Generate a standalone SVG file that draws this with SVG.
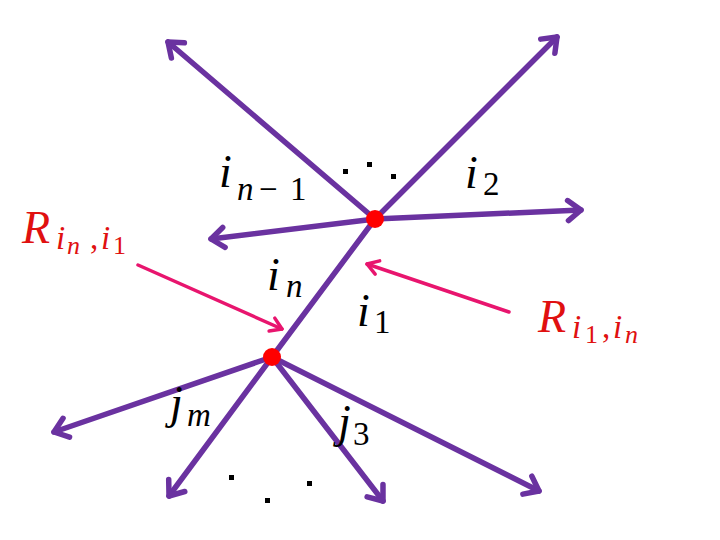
<svg xmlns="http://www.w3.org/2000/svg" width="720" height="540" viewBox="0 0 720 540">
<defs>
<marker id="ah" markerUnits="userSpaceOnUse" viewBox="-20 -14 24 28" refX="0" refY="0" markerWidth="24" markerHeight="28" orient="auto">
<path d="M-13,-10 L0,0 L-13,10" fill="none" stroke="#6a32a0" stroke-width="5.5" stroke-linecap="round" stroke-linejoin="round"/>
</marker>
<marker id="ahp" markerUnits="userSpaceOnUse" viewBox="-20 -14 24 28" refX="0" refY="0" markerWidth="24" markerHeight="28" orient="auto">
<path d="M-11,-7 L0,0 L-11,7" fill="none" stroke="#e8156e" stroke-width="3.5" stroke-linecap="round" stroke-linejoin="round"/>
</marker>
</defs>
<rect width="720" height="540" fill="#fff"/>
<g id="connectors" fill="none" stroke-linecap="round">
<g stroke="#6a32a0" stroke-width="5.5" marker-end="url(#ah)">
<line x1="375" y1="219" x2="168" y2="42"/>
<line x1="375" y1="219" x2="557" y2="37"/>
<line x1="375" y1="219" x2="581" y2="210"/>
<line x1="375" y1="219" x2="211" y2="239"/>
<line x1="272" y1="357" x2="54" y2="432"/>
<line x1="272" y1="357" x2="169" y2="496"/>
<line x1="272" y1="357" x2="383" y2="501"/>
<line x1="272" y1="357" x2="539" y2="491"/>
</g>
<line stroke="#6a32a0" stroke-width="5.5" x1="375" y1="219" x2="272" y2="357"/>
<g stroke="#e8156e" stroke-width="3.5" marker-end="url(#ahp)">
<line x1="138" y1="265" x2="282" y2="329"/>
<line x1="509" y1="312" x2="367" y2="264"/>
</g>
</g>
<g id="node-top"><circle fill="#ff0000" cx="375" cy="219" r="9"/></g>
<g id="node-bottom"><circle fill="#ff0000" cx="272" cy="357" r="9"/></g>
<g id="dots-top" fill="#000">
<rect x="343" y="169" width="5" height="5"/>
<rect x="367" y="162" width="5" height="5"/>
<rect x="391" y="174" width="5" height="5"/>
</g>
<g id="dots-bottom" fill="#000">
<rect x="229" y="475" width="5" height="5"/>
<rect x="265" y="498" width="5" height="5"/>
<rect x="307" y="481" width="5" height="5"/>
</g>
<text id="label-in-1" font-family="Liberation Serif" font-style="italic" font-size="46" fill="#000"><tspan x="219" y="187">i</tspan><tspan font-size="33" x="237" y="200">n</tspan><tspan font-style="normal" font-size="33" x="259" y="200">−</tspan><tspan font-style="normal" font-size="33" x="290" y="200">1</tspan></text>
<text id="label-i2" font-family="Liberation Serif" font-style="italic" font-size="46" fill="#000"><tspan x="465" y="188">i</tspan><tspan font-style="normal" font-size="33" x="483" y="195">2</tspan></text>
<text id="label-in" font-family="Liberation Serif" font-style="italic" font-size="46" fill="#000"><tspan x="267" y="290">i</tspan><tspan font-size="33" x="286" y="297">n</tspan></text>
<text id="label-i1" font-family="Liberation Serif" font-style="italic" font-size="46" fill="#000"><tspan x="357" y="326">i</tspan><tspan font-style="normal" font-size="33" x="374" y="333">1</tspan></text>
<text id="label-jm" font-family="Liberation Serif" font-style="italic" font-size="46" fill="#000"><tspan x="170" y="418">j</tspan><tspan font-size="33" x="187" y="426">m</tspan></text>
<text id="label-j3" font-family="Liberation Serif" font-style="italic" font-size="46" fill="#000"><tspan x="338" y="437">j</tspan><tspan font-style="normal" font-size="33" x="353" y="445">3</tspan></text>
<text id="label-R1" font-family="Liberation Serif" font-style="italic" font-size="46" fill="#e01010"><tspan x="22" y="243">R</tspan><tspan font-size="33" x="56" y="249">i</tspan><tspan font-size="26" x="67" y="254">n</tspan><tspan font-style="normal" font-size="33" x="90" y="249">,</tspan><tspan font-size="33" x="101" y="249">i</tspan><tspan font-style="normal" font-size="26" x="113" y="254">1</tspan></text>
<text id="label-R2" font-family="Liberation Serif" font-style="italic" font-size="46" fill="#e01010"><tspan x="538" y="332">R</tspan><tspan font-size="33" x="572" y="338">i</tspan><tspan font-style="normal" font-size="26" x="585" y="343">1</tspan><tspan font-style="normal" font-size="33" x="602" y="338">,</tspan><tspan font-size="33" x="613" y="338">i</tspan><tspan font-size="26" x="625" y="343">n</tspan></text>
</svg>
